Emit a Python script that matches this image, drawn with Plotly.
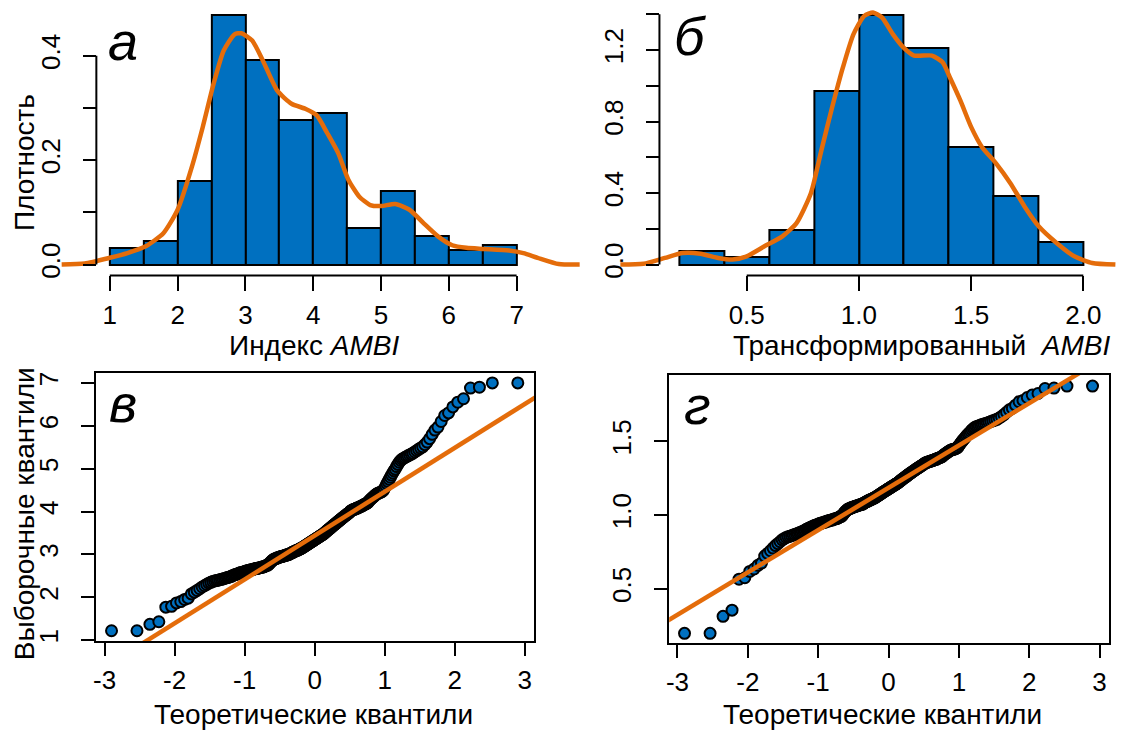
import plotly.graph_objects as go
import numpy as np
from statistics import NormalDist

W, H = 1121, 735
FONT = "Liberation Sans, Arial, sans-serif"
BLUE = "#0070C0"
ORANGE = "#E46C0A"

# ---------------- data ----------------
# panel а: histogram of AMBI index (density) + kernel density curve
ambi_breaks = [1.0, 1.5, 2.0, 2.5, 3.0, 3.5, 4.0, 4.5, 5.0, 5.5, 6.0, 6.5, 7.0]
ambi_density = [0.032, 0.046, 0.161, 0.478, 0.392, 0.277, 0.290, 0.071, 0.140, 0.054, 0.027, 0.038]
ambi_kde_x = [0.29, 0.63, 1.0, 1.26, 1.53, 1.79, 2.0, 2.21, 2.37, 2.53, 2.68, 2.84, 2.94, 3.10, 3.26,
              3.47, 3.68, 3.89, 4.05, 4.21, 4.37, 4.52, 4.68, 4.84, 5.0, 5.21, 5.42, 5.63, 5.84,
              6.05, 6.26, 6.52, 6.89, 7.10, 7.31, 7.62, 7.93]
ambi_kde_y = [0.000, 0.002, 0.013, 0.022, 0.035, 0.060, 0.105, 0.187, 0.263, 0.346, 0.410, 0.441, 0.443,
              0.429, 0.390, 0.333, 0.308, 0.298, 0.286, 0.251, 0.213, 0.162, 0.130, 0.114, 0.112,
              0.116, 0.105, 0.079, 0.054, 0.037, 0.032, 0.030, 0.027, 0.022, 0.013, 0.001, 0.000]
ambi_xticks = [1, 2, 3, 4, 5, 6, 7]
ambi_yticks = [0.0, 0.1, 0.2, 0.3, 0.4]
ambi_ylabels = ["0.0", "", "0.2", "", "0.4"]

# panel б: histogram of transformed AMBI + kernel density curve
trans_breaks = [0.2, 0.4, 0.6, 0.8, 1.0, 1.2, 1.4, 1.6, 1.8, 2.0]
trans_density = [0.074, 0.043, 0.195, 0.970, 1.397, 1.211, 0.658, 0.384, 0.126]
trans_kde_x = [-0.063, 0.040, 0.135, 0.214, 0.294, 0.373, 0.437, 0.500, 0.579, 0.659, 0.722, 0.786,
               0.833, 0.881, 0.929, 0.976, 1.024, 1.063, 1.103, 1.151, 1.198, 1.246, 1.325, 1.373,
               1.405, 1.452, 1.500, 1.548, 1.611, 1.675, 1.738, 1.802, 1.881, 1.960, 2.040, 2.143]
trans_kde_y = [0.000, 0.004, 0.037, 0.065, 0.061, 0.037, 0.028, 0.046, 0.102, 0.158, 0.232, 0.399,
               0.640, 0.881, 1.104, 1.289, 1.391, 1.410, 1.382, 1.289, 1.215, 1.169, 1.169, 1.131,
               1.048, 0.918, 0.770, 0.658, 0.566, 0.455, 0.325, 0.213, 0.121, 0.046, 0.009, 0.000]
trans_xticks = [0.5, 1.0, 1.5, 2.0]
trans_xlabels = ["0.5", "1.0", "1.5", "2.0"]
trans_yticks = [0.0, 0.2, 0.4, 0.6, 0.8, 1.0, 1.2, 1.4]
trans_ylabels = ["0.0", "", "0.4", "", "0.8", "", "1.2", ""]

# panel в: sorted AMBI sample (for the normal Q-Q plot)
ambi_sample = [
    1.22, 1.22, 1.37, 1.43,
    1.77, 1.79, 1.87, 1.90, 1.95, 1.98,
    2.08, 2.12, 2.16, 2.20, 2.24, 2.27, 2.30, 2.33, 2.35, 2.37, 2.38, 2.39, 2.40, 2.41, 2.42, 2.43,
    2.44, 2.45, 2.46, 2.47, 2.48, 2.49,
    2.51, 2.52, 2.53, 2.54, 2.55, 2.56, 2.57, 2.58, 2.58, 2.59, 2.60, 2.61,
    2.62, 2.62, 2.63, 2.63, 2.64, 2.64, 2.65, 2.66, 2.66, 2.67, 2.67, 2.68, 2.68, 2.69, 2.69, 2.70,
    2.70, 2.71, 2.71, 2.72, 2.73, 2.74, 2.75, 2.75,
    2.77, 2.79, 2.81, 2.83, 2.85, 2.86, 2.88,
    2.89, 2.90, 2.90, 2.91, 2.92, 2.92, 2.93, 2.94, 2.94, 2.95, 2.95, 2.96, 2.96, 2.97, 2.97, 2.98,
    2.98, 2.99, 2.99, 3.00, 3.00,
    3.01, 3.02, 3.03, 3.04, 3.05, 3.05, 3.06, 3.07, 3.08, 3.08, 3.09, 3.10, 3.10, 3.11, 3.12, 3.13,
    3.13, 3.14, 3.15,
    3.16, 3.17, 3.18, 3.19, 3.20, 3.21, 3.22, 3.23, 3.24, 3.25, 3.26, 3.27, 3.28, 3.29, 3.30, 3.31,
    3.32, 3.33, 3.34, 3.35, 3.36, 3.37, 3.38, 3.39, 3.40, 3.41, 3.42, 3.43, 3.44, 3.45, 3.46, 3.47,
    3.48, 3.49,
    3.51, 3.52, 3.53, 3.55, 3.56, 3.57, 3.59, 3.60, 3.61, 3.63, 3.64, 3.65, 3.67, 3.68, 3.69, 3.71,
    3.72, 3.73, 3.75, 3.76, 3.77, 3.79, 3.80, 3.81, 3.83, 3.84, 3.85, 3.87, 3.88, 3.89, 3.91, 3.92,
    3.93, 3.95, 3.96, 3.97, 3.99,
    4.01, 4.02, 4.03, 4.04, 4.05, 4.05, 4.06, 4.07, 4.08, 4.08, 4.09, 4.10, 4.11, 4.12, 4.13, 4.13,
    4.15, 4.16, 4.17, 4.18, 4.19, 4.20, 4.22,
    4.25, 4.27, 4.29, 4.31, 4.33, 4.35, 4.37, 4.39, 4.41, 4.42, 4.43, 4.44, 4.45, 4.46, 4.48, 4.50,
    4.55, 4.60, 4.65, 4.70, 4.75, 4.80, 4.85, 4.90, 4.95, 4.99,
    5.05, 5.10, 5.15, 5.19, 5.22, 5.24, 5.26, 5.28, 5.30, 5.32, 5.34, 5.36, 5.39, 5.42, 5.45, 5.48,
    5.51, 5.56, 5.62, 5.70, 5.80, 5.90, 5.97,
    6.10, 6.24, 6.30, 6.44,
    6.55, 6.63, 6.88, 6.90, 7.00, 7.00,
]

# panel г: sorted transformed AMBI sample
trans_sample = [
    0.198, 0.198, 0.313, 0.355,
    0.565, 0.575, 0.618, 0.634, 0.659, 0.674,
    0.722, 0.740, 0.758, 0.776, 0.793, 0.806, 0.819, 0.832, 0.840, 0.848, 0.852, 0.856, 0.860, 0.864,
    0.868, 0.872, 0.876, 0.880, 0.884, 0.888, 0.892, 0.896,
    0.903, 0.907, 0.911, 0.915, 0.919, 0.922, 0.926, 0.930, 0.930, 0.934, 0.937, 0.941,
    0.945, 0.945, 0.948, 0.948, 0.952, 0.952, 0.956, 0.959, 0.959, 0.963, 0.963, 0.966, 0.966, 0.970,
    0.970, 0.974, 0.974, 0.977, 0.977, 0.981, 0.984, 0.988, 0.991, 0.991,
    0.998, 1.005, 1.012, 1.019, 1.025, 1.029, 1.035,
    1.039, 1.042, 1.042, 1.045, 1.049, 1.049, 1.052, 1.055, 1.055, 1.058, 1.058, 1.062, 1.062, 1.065,
    1.065, 1.068, 1.068, 1.071, 1.071, 1.074, 1.074,
    1.078, 1.081, 1.084, 1.087, 1.090, 1.090, 1.093, 1.097, 1.100, 1.100, 1.103, 1.106, 1.106, 1.109,
    1.112, 1.115, 1.115, 1.118, 1.121,
    1.124, 1.127, 1.130, 1.133, 1.136, 1.139, 1.142, 1.145, 1.148, 1.151, 1.154, 1.157, 1.160, 1.163,
    1.165, 1.168,
    1.171, 1.174, 1.177, 1.180, 1.183, 1.185, 1.188, 1.191, 1.194, 1.197, 1.199, 1.202, 1.205, 1.208,
    1.211, 1.213, 1.216, 1.219,
    1.224, 1.227, 1.229, 1.235, 1.238, 1.240, 1.246, 1.248, 1.251, 1.256, 1.259, 1.261, 1.266, 1.269,
    1.272, 1.277, 1.279, 1.282, 1.287, 1.289, 1.292, 1.297, 1.299, 1.302, 1.307, 1.309, 1.312, 1.317,
    1.319, 1.322, 1.326, 1.329, 1.331, 1.336, 1.338, 1.341, 1.346,
    1.350, 1.353, 1.355, 1.357, 1.360, 1.360, 1.362, 1.364, 1.367, 1.367, 1.369, 1.371, 1.373, 1.376,
    1.378, 1.378,
    1.383, 1.385, 1.387, 1.389, 1.392, 1.394, 1.398,
    1.405, 1.409, 1.414, 1.418, 1.423, 1.427, 1.431, 1.436, 1.440, 1.442, 1.444, 1.446, 1.448, 1.450,
    1.455, 1.459,
    1.470, 1.481, 1.491, 1.501, 1.511, 1.520, 1.530, 1.540, 1.549, 1.557,
    1.568, 1.577, 1.586, 1.593, 1.599, 1.602, 1.606, 1.610, 1.613, 1.617, 1.620, 1.624, 1.629, 1.634,
    1.639, 1.644,
    1.649, 1.658, 1.668, 1.681, 1.697, 1.713, 1.724,
    1.745, 1.768, 1.777, 1.797,
    1.813, 1.824, 1.858, 1.861, 1.874, 1.874,
]

qq_xticks = [-3, -2, -1, 0, 1, 2, 3]
qq_xlabels = ["-3", "-2", "-1", "0", "1", "2", "3"]
qq_a_yticks = [1, 2, 3, 4, 5, 6, 7]
qq_b_yticks = [0.5, 1.0, 1.5]
qq_b_ylabels = ["0.5", "1.0", "1.5"]


# ---------------- helpers ----------------
def xdom(p0, p1):
    return [p0 / W, p1 / W]


def ydom(pbottom, ptop):
    return [1 - pbottom / H, 1 - ptop / H]


def lin_range(p0, p1, va, pa, vb, pb):
    s = (vb - va) / (pb - pa)
    return [va + (p0 - pa) * s, va + (p1 - pa) * s]


def qq_theoretical(n):
    nd = NormalDist()
    return [nd.inv_cdf((i - 0.5) / n) for i in range(1, n + 1)]


def qq_line(sample):
    q1, q3 = np.quantile(sample, [0.25, 0.75])
    z1, z3 = NormalDist().inv_cdf(0.25), NormalDist().inv_cdf(0.75)
    slope = (q3 - q1) / (z3 - z1)
    return slope, q1 - slope * z1


tickfont = dict(family=FONT, size=26, color="black")
fig = go.Figure()

# ---- panel а ----
ab = np.array(ambi_breaks)
fig.add_trace(go.Bar(x=(ab[:-1] + ab[1:]) / 2, y=ambi_density, width=np.diff(ab),
                     marker=dict(color=BLUE, line=dict(color="black", width=2)),
                     xaxis="x", yaxis="y", showlegend=False))
fig.add_trace(go.Scatter(x=ambi_kde_x, y=ambi_kde_y, mode="lines",
                         line=dict(color=ORANGE, width=4.5, shape="spline", smoothing=0.6),
                         xaxis="x", yaxis="y", showlegend=False))

# ---- panel б ----
tb = np.array(trans_breaks)
fig.add_trace(go.Bar(x=(tb[:-1] + tb[1:]) / 2, y=trans_density, width=np.diff(tb),
                     marker=dict(color=BLUE, line=dict(color="black", width=2)),
                     xaxis="x2", yaxis="y2", showlegend=False))
fig.add_trace(go.Scatter(x=trans_kde_x, y=trans_kde_y, mode="lines",
                         line=dict(color=ORANGE, width=4.5, shape="spline", smoothing=0.6),
                         xaxis="x2", yaxis="y2", showlegend=False))

# ---- panel в ----
th = qq_theoretical(len(ambi_sample))
fig.add_trace(go.Scatter(x=th, y=sorted(ambi_sample), mode="markers",
                         marker=dict(color=BLUE, size=11, line=dict(color="black", width=2)),
                         xaxis="x3", yaxis="y3", showlegend=False))
s, b = qq_line(ambi_sample)
lx = [-4, 4]
fig.add_trace(go.Scatter(x=lx, y=[b + s * v for v in lx], mode="lines",
                         line=dict(color=ORANGE, width=4.5), xaxis="x3", yaxis="y3", showlegend=False))

# ---- panel г ----
th2 = qq_theoretical(len(trans_sample))
fig.add_trace(go.Scatter(x=th2, y=sorted(trans_sample), mode="markers",
                         marker=dict(color=BLUE, size=11, line=dict(color="black", width=2)),
                         xaxis="x4", yaxis="y4", showlegend=False))
s2, b2 = qq_line(trans_sample)
fig.add_trace(go.Scatter(x=lx, y=[b2 + s2 * v for v in lx], mode="lines",
                         line=dict(color=ORANGE, width=4.5), xaxis="x4", yaxis="y4", showlegend=False))

common = dict(showgrid=False, zeroline=False, ticks="outside", tickwidth=2, tickcolor="black",
              tickfont=tickfont, fixedrange=True)

# axis geometry (pixel calibration)
A_YAX = 93.6
B_YAX = 658.2
XSO = 1    # x tick-label standoff
YSO = 13   # y tick-label standoff
fig.update_layout(
    xaxis=dict(domain=xdom(55, 582), range=lin_range(55, 582, 1, 107.1, 7, 515.0), anchor="y",
               showline=False, tickvals=ambi_xticks, ticklen=15, ticklabelstandoff=XSO, **common),
    yaxis=dict(domain=ydom(276, 5), range=lin_range(276, 5, 0, 265, 0.4, 55), anchor="free",
               position=A_YAX / W, showline=False, tickvals=ambi_yticks, ticktext=ambi_ylabels,
               tickangle=-90, ticklen=13, ticklabelstandoff=YSO, **common),
    xaxis2=dict(domain=xdom(600, 1121), range=lin_range(600, 1121, 0.5, 745.7, 2.0, 1083.2),
                anchor="y2", showline=False, tickvals=trans_xticks, ticktext=trans_xlabels,
                ticklen=15, ticklabelstandoff=XSO, **common),
    yaxis2=dict(domain=ydom(276, 5), range=lin_range(276, 5, 0, 265, 1.2, 49.3), anchor="free",
                position=B_YAX / W, showline=False, tickvals=trans_yticks, ticktext=trans_ylabels,
                tickangle=-90, ticklen=13, ticklabelstandoff=YSO, **common),
    xaxis3=dict(domain=xdom(93.6, 532.9), range=lin_range(93.6, 532.9, -3, 101.8, 3, 523.2),
                anchor="y3", showline=True, mirror=True, linecolor="black", linewidth=2,
                tickvals=qq_xticks, ticktext=qq_xlabels, ticklen=13, ticklabelstandoff=XSO, **common),
    yaxis3=dict(domain=ydom(644, 374), range=lin_range(644, 374, 1, 642.7, 7, 384), anchor="x3",
                showline=True, mirror=True, linecolor="black", linewidth=2,
                tickvals=qq_a_yticks, tickangle=-90, ticklen=13, ticklabelstandoff=YSO, **common),
    xaxis4=dict(domain=xdom(668, 1109.2), range=lin_range(668, 1109.2, -3, 676.3, 3, 1099.5),
                anchor="y4", showline=True, mirror=True, linecolor="black", linewidth=2,
                tickvals=qq_xticks, ticktext=qq_xlabels, ticklen=13, ticklabelstandoff=XSO, **common),
    yaxis4=dict(domain=ydom(646, 376), range=lin_range(646, 376, 0.5, 591, 1.5, 442.7), anchor="x4",
                showline=True, mirror=True, linecolor="black", linewidth=2,
                tickvals=qq_b_yticks, ticktext=qq_b_ylabels, tickangle=-90, ticklen=13,
                ticklabelstandoff=YSO, **common),
    bargap=0,
    width=W, height=H,
    margin=dict(l=0, r=0, t=0, b=0),
    paper_bgcolor="white",
    plot_bgcolor="rgba(0,0,0,0)",
    showlegend=False,
)

# R-style axis lines spanning first..last tick
line_style = dict(color="black", width=2)
fig.add_shape(type="line", xref="x", yref="y domain", x0=ambi_xticks[0], x1=ambi_xticks[-1],
              y0=0, y1=0, line=line_style)
fig.add_shape(type="line", xref="paper", yref="y", x0=A_YAX / W, x1=A_YAX / W,
              y0=ambi_yticks[0], y1=ambi_yticks[-1], line=line_style)
fig.add_shape(type="line", xref="x2", yref="y2 domain", x0=trans_xticks[0], x1=trans_xticks[-1],
              y0=0, y1=0, line=line_style)
fig.add_shape(type="line", xref="paper", yref="y2", x0=B_YAX / W, x1=B_YAX / W,
              y0=trans_yticks[0], y1=trans_yticks[-1], line=line_style)


def ann(text, xp, yp, size=28, angle=0):
    fig.add_annotation(text=text, x=xp / W, y=1 - yp / H, xref="paper", yref="paper",
                       xanchor="center", yanchor="middle", showarrow=False, textangle=angle,
                       font=dict(family=FONT, size=size, color="black"))


ann("Индекс <i>AMBI</i>", 312, 346)
ann("Трансформированный\u00a0 <i>AMBI</i>", 921, 346)
ann("Плотность", 21, 162, angle=-90)
ann("Выборочные квантили", 21, 515, angle=-90)
ann("Теоретические квантили", 311, 717)
ann("Теоретические квантили", 882, 717)
ann("<i>а</i>", 120, 40, size=54)
ann("<i>б</i>", 689, 35, size=54)
ann("<i>в</i>", 120, 404, size=54)
ann("<i>г</i>", 696, 406, size=54)

fig.write_html("out.html")
